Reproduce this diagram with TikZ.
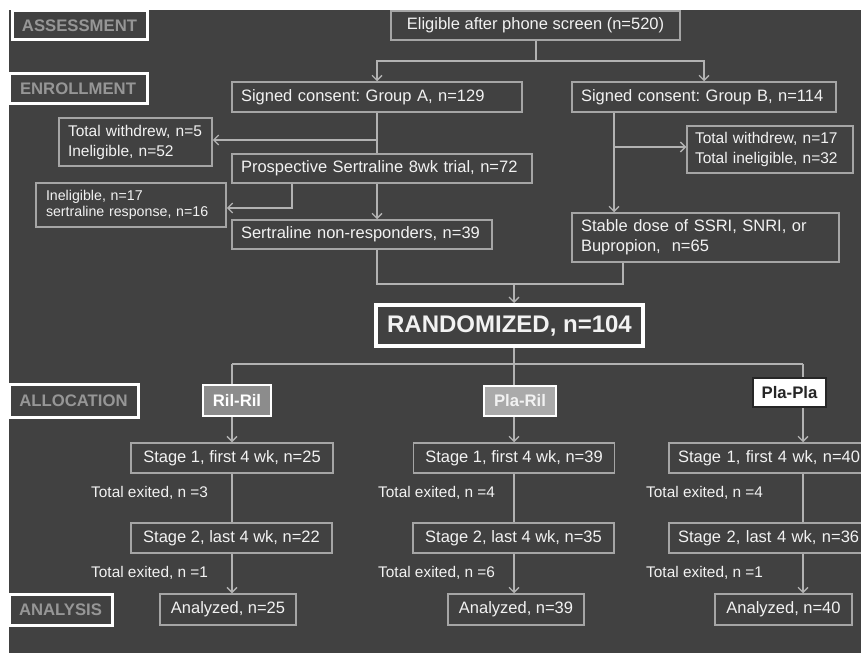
\documentclass[tikz,border=0pt]{standalone}
\usepackage{fontspec}
\setmainfont{Liberation Sans}
\usetikzlibrary{arrows.meta}
\definecolor{bg}{RGB}{65,65,65}
\definecolor{linec}{RGB}{178,178,178}
\definecolor{boxc}{RGB}{165,165,165}
\definecolor{txt}{RGB}{242,242,242}
\definecolor{labtxt}{RGB}{150,150,150}
\definecolor{rilfill}{RGB}{140,140,140}
\definecolor{plafill}{RGB}{170,170,170}
\frenchspacing
\begin{document}
\begin{tikzpicture}[x=1pt,y=-1pt,
  box/.style={draw=boxc, line width=1.5pt, fill=bg, text=txt, inner sep=0pt, font=\fontsize{16.5}{19}\selectfont},
  lbox/.style={box, align=left, inner xsep=9pt},
  lab/.style={draw=white, line width=3pt, fill=bg, text=labtxt, inner sep=0pt, font=\bfseries\fontsize{16.7}{19}\selectfont},
  grp/.style={draw=white, line width=2.5pt, inner sep=0pt, font=\bfseries\fontsize{16.7}{19}\selectfont},
  conn/.style={draw=linec, line width=1.5pt},
  arr/.style={conn, -{Straight Barb[length=5pt,width=10pt,line width=1.3pt]}},
  note/.style={text=txt, inner sep=0pt, anchor=west, font=\fontsize{15.4}{18}\selectfont}]
\fill[white] (0,0) rectangle (861,655);
\useasboundingbox (0,0) rectangle (861,655);
\fill[bg] (9,10) rectangle (861,653);

% phase labels
\node[lab, minimum width=135, minimum height=29] (assess) at (79.5,25.5) {ASSESSMENT};
\node[lab, minimum width=138, minimum height=30] (enroll) at (78,89) {ENROLLMENT};
\node[lab, minimum width=129, minimum height=33] (alloc) at (73.5,400.5) {ALLOCATION};
\node[lab, minimum width=103, minimum height=31] (analy) at (60.5,609.5) {ANALYSIS};

% enrollment boxes
\node[box, minimum width=289, minimum height=29] (elig) at (535.5,25.5) {Eligible after phone screen (n=520)};
\node[lbox, text width=272, minimum height=30] (grpA) at (377,97) {Signed consent: Group A, n=129};
\node[lbox, text width=246, minimum height=30] (grpB) at (704,97) {Signed consent: Group B, n=114};
\node[lbox, text width=135, minimum height=48, font=\fontsize{15.5}{20}\selectfont] (wdA) at (135.5,142) {Total withdrew, n=5\\Ineligible, n=52};
\node[lbox, text width=282, minimum height=29] (prosp) at (382,168.5) {Prospective Sertraline 8wk trial, n=72};
\node[lbox, text width=170, minimum height=44, inner xsep=10pt, font=\fontsize{14.2}{16}\selectfont] (inelA) at (131,205) {Ineligible, n=17\\sertraline response, n=16};
\node[lbox, text width=242, minimum height=29] (nonresp) at (362,234.5) {Sertraline non-responders, n=39};
\node[lbox, text width=150, minimum height=47, inner xsep=8pt, font=\fontsize{15.5}{20}\selectfont] (wdB) at (770,149.5) {Total withdrew, n=17\\Total ineligible, n=32};
\node[lbox, text width=249, minimum height=49, font=\fontsize{16.5}{20}\selectfont] (stable) at (705.5,237.5) {Stable dose of SSRI, SNRI, or\\Bupropion,~ n=65};
\node[draw=white, line width=4pt, fill=bg, text=txt, inner sep=0pt, font=\bfseries\fontsize{24}{28}\selectfont, minimum width=267, minimum height=41] (rand) at (509.5,325.5) {RANDOMIZED, n=104};

% stage boxes
\node[box, minimum width=202, minimum height=30] (s1a) at (232,458) {Stage 1, first 4 wk, n=25};
\node[box, minimum width=201, minimum height=30] (s1b) at (514,458) {Stage 1, first 4 wk, n=39};
\node[lbox, text width=184, minimum height=30] (s1c) at (770,458) {Stage 1, first 4 wk, n=40};
\node[box, minimum width=201, minimum height=30] (s2a) at (231.5,538) {Stage 2, last 4 wk, n=22};
\node[box, minimum width=201, minimum height=30] (s2b) at (513.5,538) {Stage 2, last 4 wk, n=35};
\node[lbox, text width=184, minimum height=30] (s2c) at (770,538) {Stage 2, last 4 wk, n=36};
\node[box, minimum width=136, minimum height=31] (anA) at (228,609.5) {Analyzed, n=25};
\node[box, minimum width=136, minimum height=31] (anB) at (516,609.5) {Analyzed, n=39};
\node[box, minimum width=137, minimum height=31] (anC) at (783.5,609.5) {Analyzed, n=40};

% exit notes
\node[note] (exA1) at (91,493) {Total exited, n =3};
\node[note] (exA2) at (91,573) {Total exited, n =1};
\node[note] (exB1) at (378,493) {Total exited, n =4};
\node[note] (exB2) at (378,573) {Total exited, n =6};
\node[note] (exC1) at (646,493) {Total exited, n =4};
\node[note] (exC2) at (646,573) {Total exited, n =1};

% junction coordinates
\coordinate (j1) at (536,61);
\coordinate (jA) at (377,140);
\coordinate (kA) at (292,208);
\coordinate (jB) at (614,147);
\coordinate (m1) at (377,284);
\coordinate (m2) at (623,284);
\coordinate (m3) at (514,284);
\coordinate (rA) at (232,364);
\coordinate (rB) at (514,364);
\coordinate (rC) at (803,364);

% connectors
\draw[conn] (elig.south -| j1) -- (j1);
\draw[arr] (j1) -| (grpA.north);
\draw[arr] (j1) -| (grpB.north);
\draw[conn] (grpA.south) -- (grpA.south |- prosp.north);
\draw[arr] (jA) -- (jA -| wdA.east);
\draw[arr] (kA |- prosp.south) -- (kA) -- (kA -| inelA.east);
\draw[arr] (grpA.south |- prosp.south) -- (grpA.south |- nonresp.north);
\draw[conn] (m1 |- nonresp.south) -- (m1) -- (m2) -- (m2 |- stable.south);
\draw[arr] (m3) -- (m3 |- rand.north);
\draw[arr] (jB |- grpB.south) -- (jB |- stable.north);
\draw[arr] (jB) -- (jB -| wdB.west);
\draw[conn] (rB |- rand.south) -- (rB);
\draw[conn] (rA) -- (rC);
\draw[arr] (rA) -- (rA |- s1a.north);
\draw[arr] (rB) -- (rB |- s1b.north);
\draw[arr] (rC) -- (rC |- s1c.north);
\draw[conn] (rA |- s1a.south) -- (rA |- s2a.north);
\draw[conn] (rB |- s1b.south) -- (rB |- s2b.north);
\draw[conn] (rC |- s1c.south) -- (rC |- s2c.north);
\draw[arr] (rA |- s2a.south) -- (rA |- anA.north);
\draw[arr] (rB |- s2b.south) -- (rB |- anB.north);
\draw[arr] (rC |- s2c.south) -- (rC |- anC.north);

% allocation group boxes (over the lines)
\node[grp, fill=rilfill, text=white, minimum width=68, minimum height=31] (ril) at (237,400.5) {Ril-Ril};
\node[grp, fill=plafill, text=txt, minimum width=72, minimum height=30] (plaril) at (520,401) {Pla-Ril};
\node[grp, draw=black!85, fill=white, text=black!85, minimum width=73, minimum height=29] (plapla) at (789.5,392.5) {Pla-Pla};
\end{tikzpicture}
\end{document}
